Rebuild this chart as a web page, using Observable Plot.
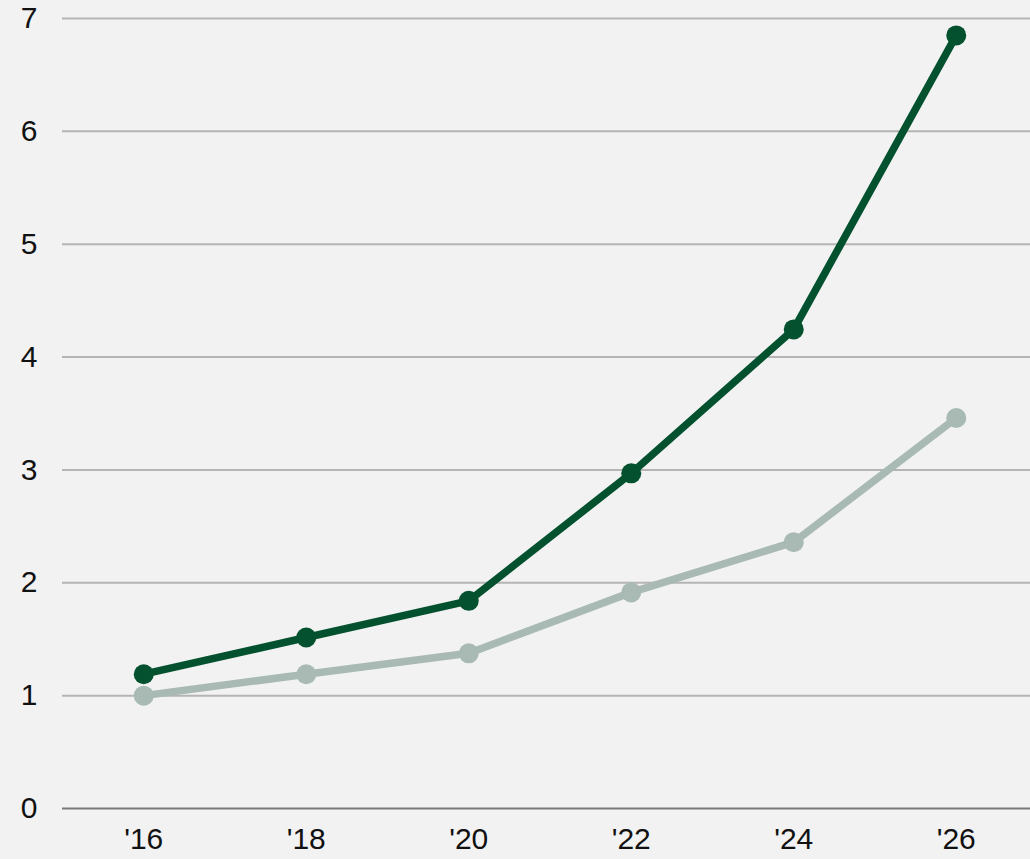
<!DOCTYPE html>
<html>
<head>
<meta charset="utf-8">
<script src="https://cdn.jsdelivr.net/npm/d3@7"></script>
<script src="https://cdn.jsdelivr.net/npm/@observablehq/plot@0.6"></script>
<style>
  html, body { margin: 0; padding: 0; background: #f2f2f2; }
  #chart svg { display: block; }
</style>
</head>
<body>
<div id="chart"></div>
<script>
const years = [2016, 2018, 2020, 2022, 2024, 2026];
const seriesA = [1.19, 1.515, 1.84, 2.97, 4.245, 6.85];   // dark green
const seriesB = [1.0, 1.19, 1.375, 1.915, 2.36, 3.46];    // light grey-green
const yTicks = [0, 1, 2, 3, 4, 5, 6, 7];

const dataA = years.map((x, i) => ({x, y: seriesA[i]}));
const dataB = years.map((x, i) => ({x, y: seriesB[i]}));

const darkC = "#03512e";
const lightC = "#a8bab3";

const chart = Plot.plot({
  width: 1030,
  height: 859,
  marginLeft: 62,
  marginRight: 0,
  marginTop: 18,
  marginBottom: 51,
  style: { background: "#f2f2f2", fontFamily: "'Liberation Sans', Arial, sans-serif", color: "#111" },
  x: { domain: [2015, 2027], range: [62, 1037] },
  y: { domain: [0, 7] },
  marks: [
    Plot.ruleY(yTicks.filter(d => d > 0), { stroke: "#b5b5b5", strokeWidth: 2 }),
    Plot.ruleY([0], { stroke: "#7a7a7a", strokeWidth: 2 }),
    Plot.axisY(yTicks, { tickSize: 0, tickPadding: 25, fontSize: 30, label: null, fill: "#111",
      tickFormat: d => String(d) }),
    Plot.axisX(years, { tickSize: 0, tickPadding: 19, fontSize: 30, label: null, fill: "#111",
      tickFormat: d => "'" + String(d).slice(2) }),
    Plot.line(dataB, { x: "x", y: "y", stroke: lightC, strokeWidth: 7.5 }),
    Plot.dot(dataB, { x: "x", y: "y", r: 10, fill: lightC }),
    Plot.line(dataA, { x: "x", y: "y", stroke: darkC, strokeWidth: 7.5 }),
    Plot.dot(dataA, { x: "x", y: "y", r: 10, fill: darkC })
  ]
});
document.getElementById("chart").appendChild(chart);
</script>
</body>
</html>
